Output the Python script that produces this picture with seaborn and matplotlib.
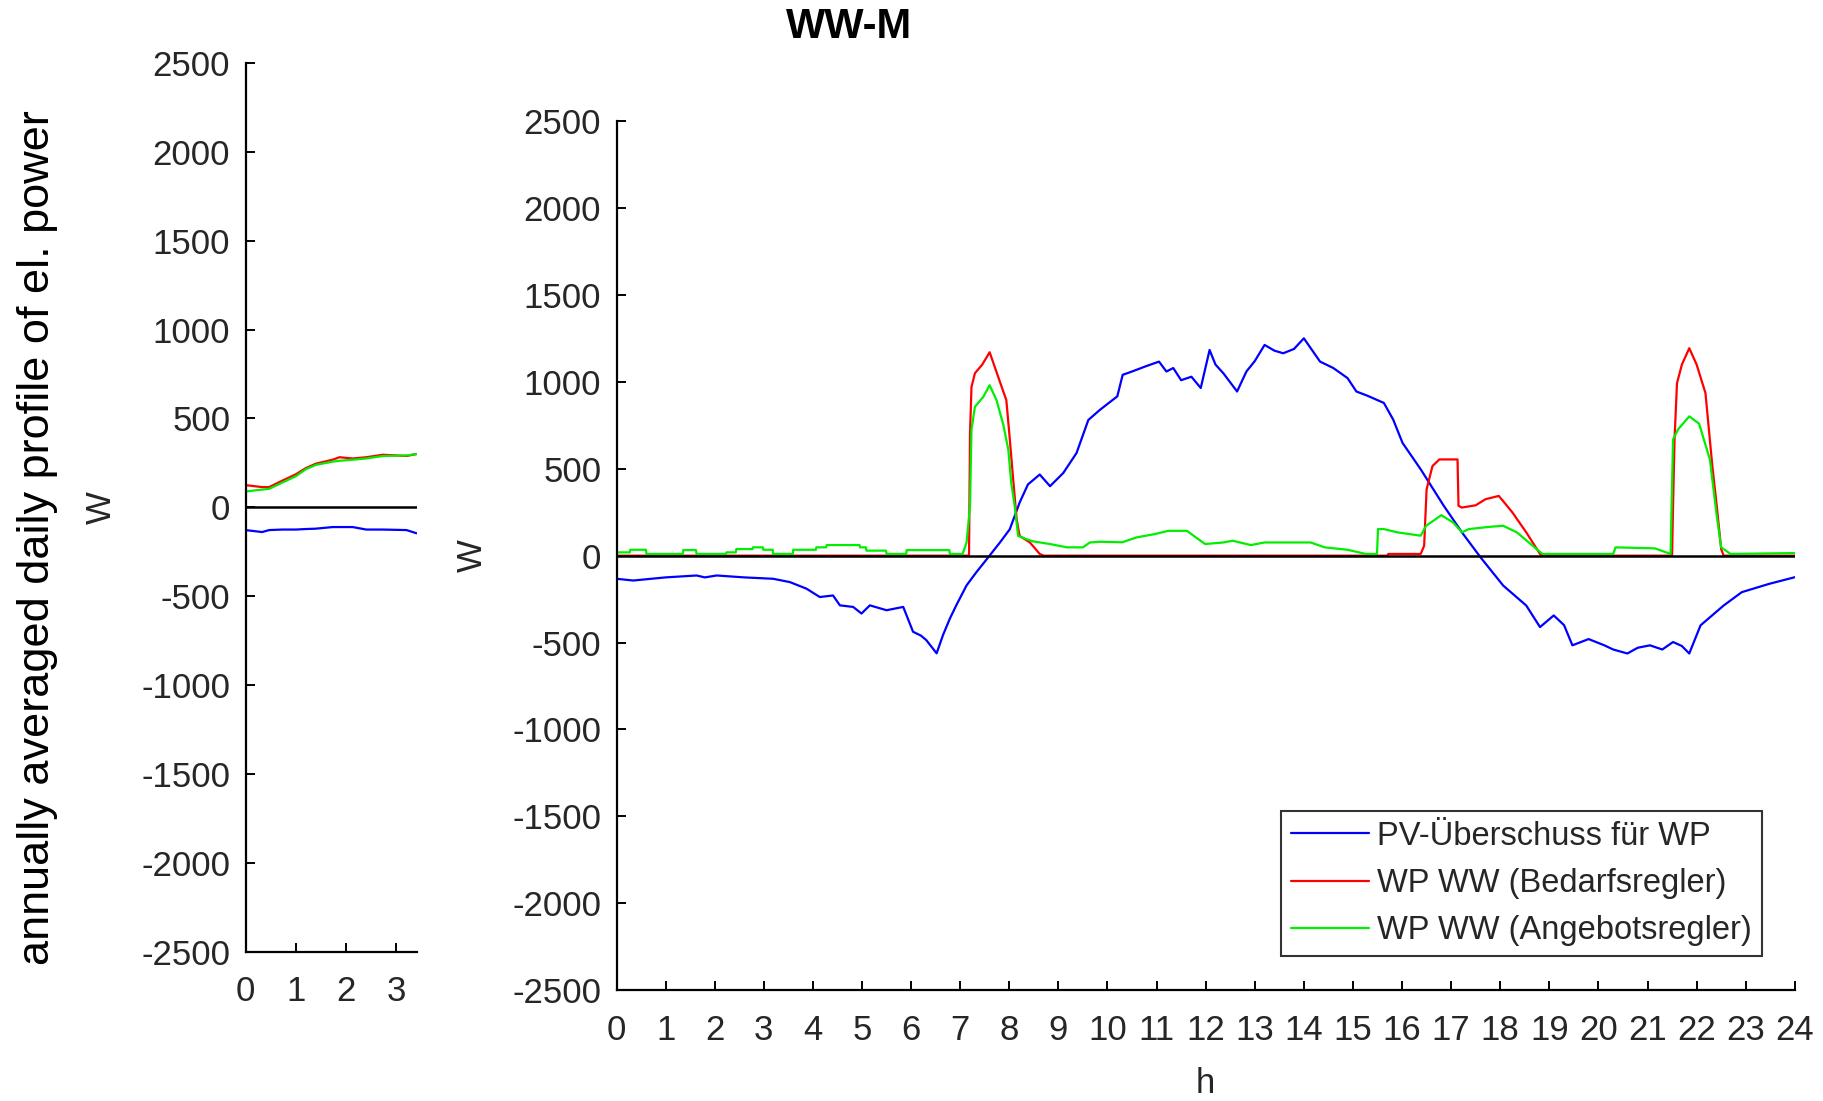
import numpy as np
import pandas as pd
import matplotlib
matplotlib.use('Agg')
import matplotlib.pyplot as plt
import seaborn as sns

# --- data (hours, W) ---
pv_h = [0, 0.34, 1.0, 1.63, 1.8, 2.04, 2.6, 3.19, 3.53, 3.87, 4.14, 4.41, 4.55, 4.82, 4.99,
        5.16, 5.5, 5.84, 6.04, 6.2, 6.31, 6.52, 6.65, 6.79, 6.92, 7.13, 7.33, 7.57, 7.81, 8.01,
        8.21, 8.38, 8.62, 8.83, 9.1, 9.37, 9.61, 9.84, 10.2, 10.31, 10.5, 10.77, 11.05, 11.2,
        11.34, 11.5, 11.71, 11.9, 12.08, 12.2, 12.36, 12.64, 12.83, 13.0, 13.2, 13.4, 13.58,
        13.8, 14.0, 14.33, 14.6, 14.89, 15.07, 15.3, 15.63, 15.82, 16.01, 16.38, 16.85, 17.22,
        17.6, 18.06, 18.53, 18.81, 19.09, 19.3, 19.47, 19.8, 20.12, 20.3, 20.59, 20.8, 21.05,
        21.3, 21.52, 21.7, 21.85, 22.08, 22.55, 22.92, 23.48, 24.0]
pv_w = [-133, -143, -125, -114, -125, -114, -125, -133, -152, -190, -238, -229, -286, -295, -333,
        -286, -314, -295, -438, -460, -486, -562, -457, -362, -286, -171, -95, -10, 76, 152,
        305, 410, 467, 400, 476, 591, 781, 838, 917, 1041, 1060, 1089, 1117, 1060,
        1080, 1010, 1030, 965, 1184, 1100, 1050, 945, 1060, 1120, 1213, 1180, 1165,
        1190, 1251, 1117, 1080, 1022, 945, 920, 879, 783, 649, 497, 287, 134,
        -10, -172, -287, -411, -344, -400, -516, -480, -516, -540, -563, -530, -516,
        -540, -497, -520, -563, -401, -287, -210, -162, -124]

bed_h = [0, 7.18, 7.2, 7.23, 7.3, 7.45, 7.6, 7.81, 7.94, 8.0, 8.08, 8.15, 8.21, 8.42,
         8.62, 8.7, 15.7, 15.72, 16.38, 16.45, 16.5, 16.62, 16.76, 17.13, 17.15, 17.22,
         17.5, 17.7, 17.97, 18.1, 18.25, 18.53, 18.81, 18.85, 21.5, 21.52, 21.55, 21.6,
         21.7, 21.85, 22.0, 22.18, 22.32, 22.41, 22.5, 22.55, 24]
bed_w = [0, 0, 700, 971, 1050, 1100, 1171, 1000, 895, 705, 438, 210, 114, 76,
         10, 0, 0, 10, 10, 57, 382, 516, 554, 554, 287, 277,
         290, 325, 344, 300, 248, 134, 10, 0, 0, 287, 669, 993,
         1100, 1194, 1100, 936, 516, 287, 38, 0, 0]

ang_h = [0, 0.27, 0.28, 0.6, 0.61, 1.35, 1.36, 1.62, 1.63, 2.23, 2.24, 2.43, 2.44, 2.77,
         2.78, 2.98, 2.99, 3.18, 3.19, 3.59, 3.6, 4.06, 4.07, 4.27, 4.28, 4.95, 4.96, 5.08,
         5.09, 5.49, 5.5, 5.9, 5.91, 6.78, 6.79, 7.05, 7.13, 7.2, 7.23, 7.3, 7.47, 7.6,
         7.74, 7.88, 7.98, 8.04, 8.11, 8.18, 8.35, 8.49, 8.83, 9.17, 9.5, 9.64, 9.84, 10.3,
         10.59, 10.96, 11.24, 11.62, 11.8, 11.99, 12.36, 12.55, 12.92, 13.2, 14.14, 14.42,
         14.89, 15.26, 15.49, 15.51, 15.63, 15.91, 16.38, 16.49, 16.8, 17.04, 17.22, 17.36,
         17.78, 18.06, 18.34, 18.62, 18.86, 20.3, 20.35, 21.15, 21.47, 21.52, 21.62, 21.85,
         22.05, 22.27, 22.41, 22.5, 22.69, 24]
ang_w = [19, 19, 34, 34, 10, 10, 32, 32, 10, 10, 19, 19, 38, 38,
         48, 48, 34, 34, 10, 10, 34, 34, 48, 48, 61, 61, 48, 48,
         29, 29, 10, 10, 32, 32, 10, 10, 76, 286, 724, 857, 914, 981,
         895, 752, 610, 419, 286, 114, 95, 82, 67, 48, 48, 76, 80, 77,
         105, 124, 143, 143, 105, 67, 76, 86, 61, 76, 76, 48,
         34, 10, 10, 153, 153, 134, 115, 172, 233, 191, 134, 153,
         166, 172, 134, 67, 10, 10, 48, 42, 10, 669, 726, 802,
         760, 554, 229, 48, 10, 15]

# small left panel
small_h = [0, 0.33, 0.47, 0.73, 1.0, 1.2, 1.4, 1.73, 1.87, 2.13, 2.4, 2.73, 3.2, 3.4]
small_pv = [-128, -139, -128, -125, -125, -122, -120, -111, -111, -111, -125, -125, -128, -146]
small_bed = [125, 114, 114, 150, 186, 221, 246, 268, 282, 275, 282, 296, 289, 300]
small_ang = [89, 100, 104, 139, 175, 215, 239, 257, 262, 268, 275, 289, 292, 300]

labels = ['PV-Überschuss für WP', 'WP WW (Bedarfsregler)', 'WP WW (Angebotsregler)']
colors = ['#0000ff', '#ff0000', '#00ee00']

sns.set_style('white')
plt.rcParams['font.family'] = ['Liberation Sans', 'DejaVu Sans']
plt.rcParams['axes.unicode_minus'] = False
tick_col = '#262626'

fig = plt.figure(figsize=(18.24, 11.01), dpi=100)
ax_s = fig.add_axes([0.1346, 0.1357, 0.0938, 0.807])
ax = fig.add_axes([0.338, 0.1008, 0.646, 0.789])


def style_axes(a):
    for side in ['top', 'right']:
        a.spines[side].set_visible(False)
    for side in ['left', 'bottom']:
        a.spines[side].set_color('black')
        a.spines[side].set_linewidth(1.6)
    a.tick_params(direction='in', length=6.5, width=1.4, color='black',
                  labelsize=25, labelcolor=tick_col, left=True, bottom=True)
    a.tick_params(axis='y', pad=11)
    a.tick_params(axis='x', pad=17)
    a.set_ylim(-2500, 2500)
    a.set_yticks(np.arange(-2500, 2501, 500))


# main panel
sns.lineplot(x=pv_h, y=pv_w, ax=ax, color=colors[0], lw=1.6, label=labels[0], estimator=None, sort=False)
sns.lineplot(x=bed_h, y=bed_w, ax=ax, color=colors[1], lw=1.6, label=labels[1], estimator=None, sort=False)
sns.lineplot(x=ang_h, y=ang_w, ax=ax, color=colors[2], lw=1.6, label=labels[2], estimator=None, sort=False)
ax.axhline(0, color='black', lw=1.8, zorder=5)
style_axes(ax)
ax.set_xlim(0, 24)
ax.set_xticks(range(0, 25))
ax.set_xlabel('h', fontsize=25, color=tick_col, va='center')
ax.xaxis.set_label_coords(0.5, -0.108)
ax.set_ylabel('W', fontsize=25, color=tick_col, va='center')
ax.yaxis.set_label_coords(-0.122, 0.5)

leg = ax.legend(loc='lower right', bbox_to_anchor=(0.972, 0.039), frameon=True,
                fancybox=False, edgecolor='black', fontsize=23.5, handlelength=2.4,
                handletextpad=0.25, labelspacing=0.5, borderpad=0.3, borderaxespad=0)
leg.get_frame().set_linewidth(1.5)
for t in leg.get_texts():
    t.set_color(tick_col)

# small left panel
sns.lineplot(x=small_h, y=small_pv, ax=ax_s, color=colors[0], lw=1.6, estimator=None, sort=False)
sns.lineplot(x=small_h, y=small_bed, ax=ax_s, color=colors[1], lw=1.6, estimator=None, sort=False)
sns.lineplot(x=small_h, y=small_ang, ax=ax_s, color=colors[2], lw=1.6, estimator=None, sort=False)
ax_s.axhline(0, color='black', lw=1.8, zorder=5)
style_axes(ax_s)
ax_s.set_xlim(0, 3.4)
ax_s.set_xticks([0, 1, 2, 3])
ax_s.set_ylabel('W', fontsize=25, color=tick_col, va='center')
ax_s.yaxis.set_label_coords(-0.84, 0.5)

fig.text(849 / 1824, 1 - 27 / 1101, 'WW-M', ha='center', va='center',
         fontsize=30, fontweight='bold', color='black')
fig.text(38 / 1824, 0.512, 'annually averaged daily profile of el. power', rotation=90,
         ha='center', va='center', fontsize=32.5, color='black')

fig.savefig('out.png', dpi=100)
